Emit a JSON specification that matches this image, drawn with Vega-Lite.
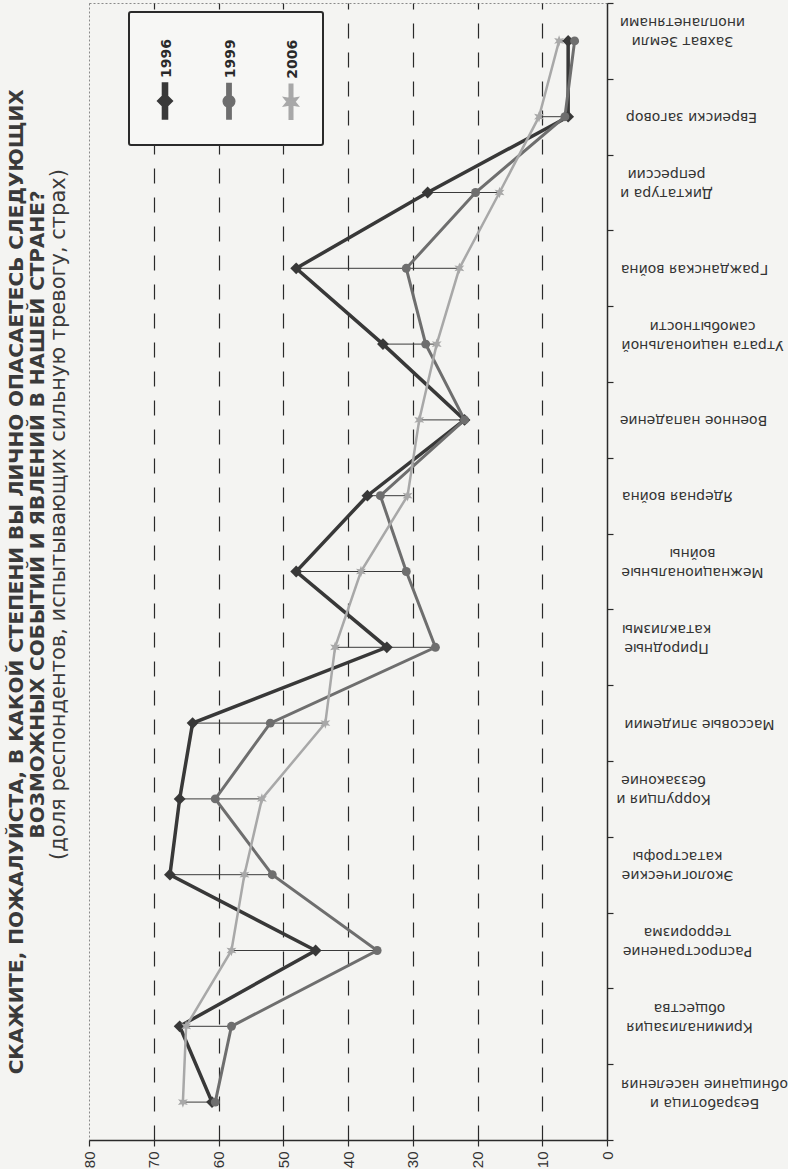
{
  "$schema": "https://vega.github.io/schema/vega-lite/v6.json",
  "background": "#f4f4f2",
  "padding": {"left": 6, "top": -5, "right": 0, "bottom": 0},
  "title": {
    "text": "СКАЖИТЕ, ПОЖАЛУЙСТА, В КАКОЙ СТЕПЕНИ ВЫ ЛИЧНО ОПАСАЕТЕСЬ СЛЕДУЮЩИХ",
    "orient": "left", "anchor": "middle",
    "font": "DejaVu Sans", "fontSize": 20, "fontWeight": "bold", "color": "#3a3a3a",
    "offset": 1
  },
  "hconcat": [
    {
      "title": {
        "text": "ВОЗМОЖНЫХ СОБЫТИЙ И ЯВЛЕНИЙ В НАШЕЙ СТРАНЕ?",
        "subtitle": "(доля респондентов, испытывающих сильную тревогу, страх)",
        "orient": "left", "anchor": "middle", "frame": "group", "dx": 57,
        "font": "DejaVu Sans", "fontSize": 20, "fontWeight": "bold", "color": "#3a3a3a",
        "subtitleFont": "DejaVu Sans", "subtitleFontSize": 21, "subtitleColor": "#3a3a3a",
        "subtitlePadding": 0, "offset": 13
      },
      "width": 518,
      "height": 1137,
      "data": {
        "values": [
          {"c": "Безработица и|обнищание населения", "1996": 61, "1999": 60.5, "2006": 65.5},
          {"c": "Криминализация|общества", "1996": 66, "1999": 58, "2006": 65},
          {"c": "Распространение|терроризма", "1996": 45, "1999": 35.5, "2006": 58},
          {"c": "Экологические|катастрофы", "1996": 67.5, "1999": 51.7, "2006": 56},
          {"c": "Коррупция и|беззаконие", "1996": 66, "1999": 60.5, "2006": 53.3},
          {"c": "Массовые эпидемии", "1996": 64, "1999": 52, "2006": 43.5},
          {"c": "Природные|катаклизмы", "1996": 34, "1999": 26.5, "2006": 42},
          {"c": "Межнациональные|войны", "1996": 48, "1999": 31, "2006": 38},
          {"c": "Ядерная война", "1996": 37, "1999": 35, "2006": 30.8},
          {"c": "Военное нападение", "1996": 22, "1999": 22, "2006": 29},
          {"c": "Утрата национальной|самобытности", "1996": 34.6, "1999": 28, "2006": 26.3},
          {"c": "Гражданская война", "1996": 48, "1999": 31, "2006": 22.8},
          {"c": "Диктатура и|репрессии", "1996": 27.7, "1999": 20.3, "2006": 16.6},
          {"c": "Евреиски заговор", "1996": 6, "1999": 6.5, "2006": 10.5},
          {"c": "Захват Земли|инопланетянами", "1996": 6, "1999": 5, "2006": 7.4}
        ]
      },
      "transform": [{"fold": ["1996", "1999", "2006"], "as": ["year", "value"]}],
      "encoding": {
        "y": {
          "field": "c", "type": "nominal",
          "sort": ["Захват Земли|инопланетянами", "Евреиски заговор", "Диктатура и|репрессии", "Гражданская война", "Утрата национальной|самобытности", "Военное нападение", "Ядерная война", "Межнациональные|войны", "Природные|катаклизмы", "Массовые эпидемии", "Коррупция и|беззаконие", "Экологические|катастрофы", "Распространение|терроризма", "Криминализация|общества", "Безработица и|обнищание населения"],
          "scale": {"type": "band", "paddingInner": 0, "paddingOuter": 0},
          "axis": {
            "orient": "right", "title": null,
            "labelExpr": "split(datum.label, '|')",
            "labelAngle": 180, "labelAlign": "center", "labelBaseline": "middle",
            "labelFont": "DejaVu Sans", "labelFontSize": 14, "labelLineHeight": 19,
            "labelColor": "#333333", "labelLimit": 400, "labelOverlap": false,
            "labelPadding": {
              "condition": [
                {"test": "datum.value === 'Захват Земли|инопланетянами'", "value": 69},
                {"test": "datum.value === 'Евреиски заговор'", "value": 78},
                {"test": "datum.value === 'Диктатура и|репрессии'", "value": 53},
                {"test": "datum.value === 'Гражданская война'", "value": 81},
                {"test": "datum.value === 'Утрата национальной|самобытности'", "value": 89},
                {"test": "datum.value === 'Военное нападение'", "value": 80},
                {"test": "datum.value === 'Ядерная война'", "value": 64},
                {"test": "datum.value === 'Межнациональные|войны'", "value": 79},
                {"test": "datum.value === 'Природные|катаклизмы'", "value": 53},
                {"test": "datum.value === 'Массовые эпидемии'", "value": 86},
                {"test": "datum.value === 'Коррупция и|беззаконие'", "value": 50},
                {"test": "datum.value === 'Экологические|катастрофы'", "value": 64},
                {"test": "datum.value === 'Распространение|терроризма'", "value": 74},
                {"test": "datum.value === 'Криминализация|общества'", "value": 76}
              ],
              "value": 91
            },
            "tickBand": "extent", "tickSize": 6, "tickColor": "#2a2a2a", "tickWidth": 1.2,
            "domainColor": "#2a2a2a", "domainWidth": 1.5, "grid": false
          }
        },
        "x": {
          "field": "value", "type": "quantitative",
          "scale": {"domain": [0, 80], "reverse": true, "nice": false},
          "axis": {
            "values": [0, 10, 20, 30, 40, 50, 60, 70, 80], "title": null, "orient": "bottom",
            "labelAngle": -90, "labelAlign": "right", "labelBaseline": "middle",
            "labelFont": "Liberation Sans", "labelFontSize": 15, "labelColor": "#333333", "labelPadding": 5,
            "tickSize": 6, "tickColor": "#2a2a2a", "tickWidth": 1.2,
            "domainColor": "#2a2a2a", "domainWidth": 1.5,
            "grid": true, "gridColor": "#2a2a2a", "gridWidth": 1.2, "gridDash": [15, 14],
            "gridOpacity": {"condition": {"test": "datum.value == 0 || datum.value == 80", "value": 0}, "value": 1}
          }
        }
      },
      "layer": [
        {
          "mark": {"type": "rule", "color": "#3a3a3a", "strokeWidth": 1},
          "encoding": {
            "x": {"aggregate": "min", "field": "value", "type": "quantitative"},
            "x2": {"aggregate": "max", "field": "value"}
          }
        },
        {
          "mark": {"type": "line"},
          "encoding": {
            "color": {
              "field": "year", "type": "nominal",
              "scale": {"domain": ["1996", "1999", "2006"], "range": ["#383838", "#6e6e6e", "#a8a8a8"]},
              "legend": {
                "orient": "none", "legendX": 40, "legendY": 9, "direction": "horizontal", "columns": 3,
                "title": " ", "titleFontSize": 10, "titlePadding": 43,
                "symbolSize": 784, "symbolType": "M0,-1L0,1", "symbolStrokeWidth": 0,
                "labelFont": "DejaVu Sans", "labelFontSize": 14, "labelFontWeight": "bold", "labelColor": "#2a2a2a",
                "labelOffset": 0, "columnPadding": 34, "padding": 20,
                "fillColor": "#f7f7f5", "strokeColor": "#2a2a2a", "cornerRadius": 2,
                "encode": {
                  "legend": {"update": {"strokeWidth": {"value": 2}}},
                  "symbols": {"update": {
                    "shape": {"signal": "datum.value === '1996' ? 'M-0.11,-1.21L0.11,-1.21L0.11,1.21L-0.11,1.21ZM-0.43,0L0,-0.43L0.43,0L0,0.43Z' : datum.value === '1999' ? 'M-0.1,-1.21L0.1,-1.21L0.1,1.21L-0.1,1.21ZM-0.36,0A0.36,0.36,0,1,1,0.36,0A0.36,0.36,0,1,1,-0.36,0Z' : 'M-0.09,-1.21L0.09,-1.21L0.09,1.21L-0.09,1.21ZM0,-0.5L0.12,-0.2L0.43,-0.25L0.23,0L0.43,0.25L0.12,0.2L0,0.5L-0.12,0.2L-0.43,0.25L-0.23,0L-0.43,-0.25L-0.12,-0.2Z'"},
                    "fill": {"scale": "color", "field": "value"},
                    "strokeWidth": {"value": 0},
                    "opacity": {"value": 1}
                  }},
                  "labels": {"update": {
                    "angle": {"value": -90}, "align": {"value": "left"}, "baseline": {"value": "middle"},
                    "dx": {"value": 23}, "dy": {"value": -14}
                  }}
                }
              }
            },
            "strokeWidth": {"field": "year", "type": "ordinal", "scale": {"domain": ["1996", "1999", "2006"], "range": [3.5, 2.5, 2.5]}, "legend": null},
            "order": {"value": null}
          }
        },
        {
          "mark": {"type": "point", "filled": true, "opacity": 1},
          "encoding": {
            "color": {"field": "year", "type": "nominal"},
            "shape": {
              "condition": [
                {"test": "datum.year === '1996'", "value": "diamond"},
                {"test": "datum.year === '1999'", "value": "circle"}
              ],
              "value": "M0,-1L0.225,-0.39L0.866,-0.5L0.45,0L0.866,0.5L0.225,0.39L0,1L-0.225,0.39L-0.866,0.5L-0.45,0L-0.866,-0.5L-0.225,-0.39Z"
            },
            "size": {
              "condition": [
                {"test": "datum.year === '1996'", "value": 140},
                {"test": "datum.year === '1999'", "value": 80}
              ],
              "value": 130
            }
          }
        }
      ]
    }
  ],
  "config": {
    "view": {"stroke": "#8a8a8a", "strokeDash": [2, 2], "strokeWidth": 1}
  }
}
